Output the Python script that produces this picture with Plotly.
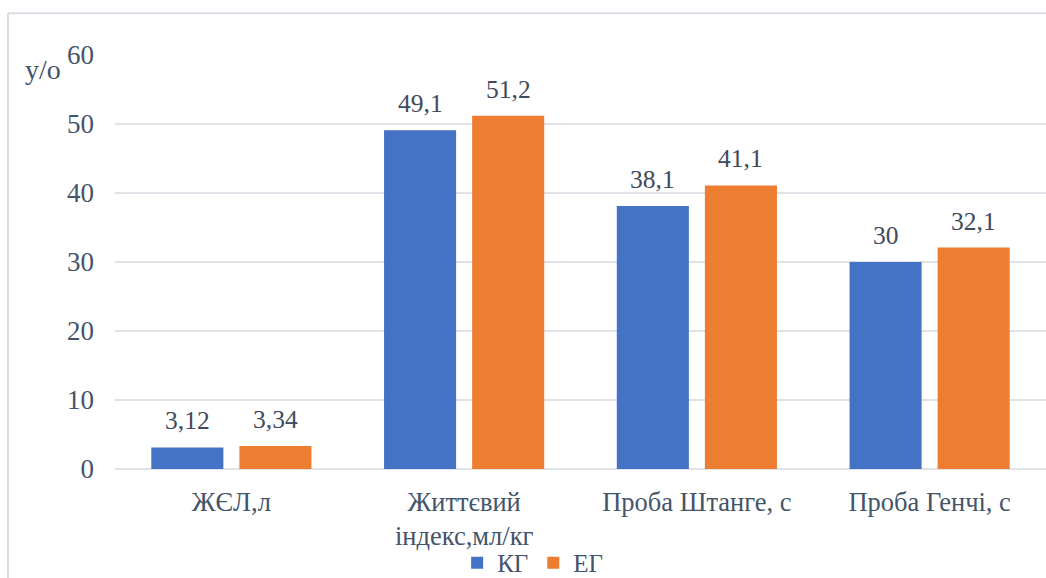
import plotly.graph_objects as go

categories = ["ЖЄЛ,л", "Життєвий<br>індекс,мл/кг", "Проба Штанге, с", "Проба Генчі, с"]
kg_values = [3.12, 49.1, 38.1, 30]
eg_values = [3.34, 51.2, 41.1, 32.1]
y_ticks = [0, 10, 20, 30, 40, 50, 60]

FONT = "Liberation Serif"
TEXT_COLOR = "#44546a"
LABEL_COLOR = "#404a5a"


def fmt(v):
    return f"{v:g}".replace(".", ",")


series = [("КГ", kg_values, "#4472c4", -44), ("ЕГ", eg_values, "#ed7d31", 44)]

fig = go.Figure()
for name, vals, color, _ in series:
    fig.add_trace(go.Bar(
        name=name, x=categories, y=vals,
        marker=dict(color=color, line=dict(width=0)),
    ))

# value labels above each bar
for name, vals, color, dx in series:
    for cat, v in zip(categories, vals):
        fig.add_annotation(x=cat, y=v, text=fmt(v), showarrow=False,
                           xshift=dx, yshift=10, yanchor="bottom",
                           font=dict(family=FONT, size=25.5, color=LABEL_COLOR))

fig.update_layout(
    width=1046, height=578,
    margin=dict(l=115, r=0, t=55, b=109, autoexpand=False),
    paper_bgcolor="white", plot_bgcolor="white",
    barmode="group", bargap=0.243, bargroupgap=0.182,
    font=dict(family=FONT, size=25, color=TEXT_COLOR),
    showlegend=True,
    legend=dict(orientation="h", x=0.3675, xanchor="left", y=-0.227, yanchor="middle",
                font=dict(family=FONT, size=25, color=TEXT_COLOR),
                itemwidth=30, bgcolor="rgba(0,0,0,0)"),
)
fig.update_yaxes(range=[0, 60], tickvals=y_ticks, showgrid=True, gridcolor="#dfe2e7",
                 gridwidth=2, zeroline=True, zerolinecolor="#dfe2e7", zerolinewidth=2,
                 showline=False, ticks="", ticklabelstandoff=20, automargin=False,
                 tickfont=dict(family=FONT, size=27, color=TEXT_COLOR))
fig.update_xaxes(showline=False, ticks="", ticklabelstandoff=14, automargin=False,
                 tickfont=dict(family=FONT, size=26.5, color=TEXT_COLOR))

# axis caption next to the top tick
fig.add_annotation(text="у/о", xref="paper", yref="paper", x=-0.0559, y=1.007,
                   xanchor="right", showarrow=False,
                   font=dict(family=FONT, size=28, color=TEXT_COLOR))

# chart frame edges (left and top)
fig.add_shape(type="line", xref="paper", yref="paper", x0=-0.115, x1=-0.115, y0=-0.35, y1=1.101,
              line=dict(color="#d9dde3", width=2))
fig.add_shape(type="line", xref="paper", yref="paper", x0=-0.115, x1=1.05, y0=1.101, y1=1.101,
              line=dict(color="#d9dde3", width=2))

fig.write_html("out.html")
